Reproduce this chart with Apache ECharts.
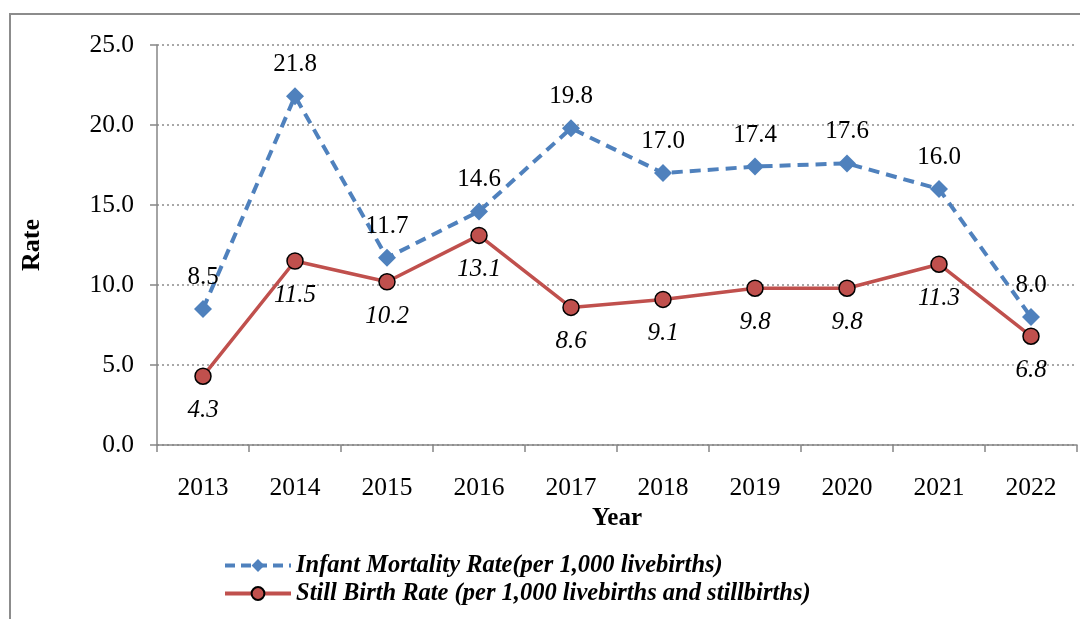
<!DOCTYPE html>
<html><head><meta charset="utf-8">
<script src="https://cdn.jsdelivr.net/npm/echarts@6/dist/echarts.min.js"></script>
<style>html,body{margin:0;padding:0;background:#fff}#c{width:1080px;height:619px}</style>
</head><body><div id="c"></div>
<script>
const years = ['2013','2014','2015','2016','2017','2018','2019','2020','2021','2022'];
const infantMortality = [8.5,21.8,11.7,14.6,19.8,17.0,17.4,17.6,16.0,8.0];
const stillBirth = [4.3,11.5,10.2,13.1,8.6,9.1,9.8,9.8,11.3,6.8];
const yTicks = {min:0, max:25, interval:5};
const serif = '"Liberation Serif","Times New Roman",serif';
const chart = echarts.init(document.getElementById('c'));
chart.setOption({
  animation:false,
  graphic:[{type:'rect',shape:{x:10,y:14,width:1100,height:700},style:{fill:'none',stroke:'#8c8c8c',lineWidth:2},z:-1}],
  grid:{left:157,right:3,top:45,bottom:174},
  legend:{
    orient:'vertical',left:218,top:548,itemWidth:66,itemHeight:16,itemGap:3,
    textStyle:{fontFamily:serif,fontSize:24.5,fontWeight:'bold',fontStyle:'italic',color:'#000'},
    data:[
      {name:'Infant Mortality Rate(per 1,000 livebirths)',lineStyle:{width:4,type:[10,6]}},
      {name:'Still Birth Rate (per 1,000 livebirths and stillbirths)',lineStyle:{width:4}}
    ]
  },
  xAxis:{
    type:'category',data:years,boundaryGap:true,
    name:'Year',nameLocation:'middle',nameGap:60,
    nameTextStyle:{fontFamily:serif,fontSize:25,fontWeight:'bold',color:'#000'},
    axisLine:{lineStyle:{color:'#868686',width:1.5}},
    axisTick:{show:true,alignWithLabel:false,length:7,lineStyle:{color:'#868686',width:1.5}},
    axisLabel:{fontFamily:serif,fontSize:25.5,color:'#000',margin:30}
  },
  yAxis:{
    type:'value',min:yTicks.min,max:yTicks.max,interval:yTicks.interval,
    name:'Rate',nameLocation:'middle',nameGap:112,nameRotate:90,
    nameTextStyle:{fontFamily:serif,fontSize:26,fontWeight:'bold',color:'#000'},
    axisLine:{show:true,lineStyle:{color:'#868686',width:1.5}},
    axisTick:{show:true,length:7,lineStyle:{color:'#868686',width:1.5}},
    axisLabel:{fontFamily:serif,fontSize:25.5,color:'#000',margin:23,formatter:v=>v.toFixed(1)},
    splitLine:{show:true,lineStyle:{color:'#8c8c8c',type:[2,3],width:1.5}}
  },
  series:[
    {
      name:'Infant Mortality Rate(per 1,000 livebirths)',type:'line',data:infantMortality,
      symbol:'diamond',symbolSize:18,
      lineStyle:{color:'#4F81BD',width:4,type:[11,7]},
      itemStyle:{color:'#4F81BD'},
      label:{show:true,position:'top',distance:10,fontFamily:serif,fontSize:25,color:'#000',formatter:p=>p.value.toFixed(1)},
      z:3
    },
    {
      name:'Still Birth Rate (per 1,000 livebirths and stillbirths)',type:'line',data:stillBirth,
      symbol:'circle',symbolSize:16,
      lineStyle:{color:'#C0504D',width:3.5},
      itemStyle:{color:'#C0504D',borderColor:'#000',borderWidth:1.5},
      label:{show:true,position:'bottom',distance:13,fontFamily:serif,fontSize:25,fontStyle:'italic',color:'#000',formatter:p=>p.value.toFixed(1)},
      z:4
    }
  ]
});
</script></body></html>
